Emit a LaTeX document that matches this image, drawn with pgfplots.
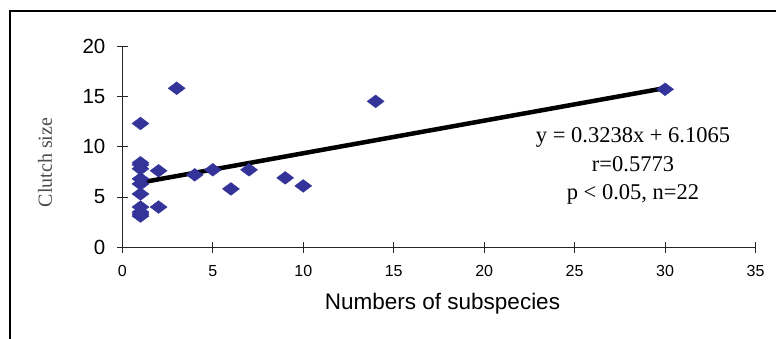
\documentclass[border=0pt]{standalone}
\usepackage{pgfplots}
\pgfplotsset{compat=1.18}
\usepackage{fontspec}
\setmainfont{Liberation Sans}
\newfontfamily\serif{Liberation Serif}
\definecolor{dotblue}{RGB}{51,51,153}
\begin{document}
\begin{tikzpicture}[x=1pt,y=1pt]
\path[use as bounding box] (0,0) rectangle (776,338);
\draw[line width=1.2pt] (10,-2) -- (10,327) -- (778,327);
\begin{axis}[
  at={(122.4pt,90.7pt)}, anchor=south west,
  scale only axis, width=633.1pt, height=201.3pt,
  xmin=0, xmax=35, ymin=0, ymax=20,
  axis x line=bottom, axis y line=left,
  axis line style={-, line width=0.8pt, black!85},
  xtick={0,5,...,35}, ytick={0,5,...,20},
  tick align=center,
  major tick length=11pt,
  tick style={line width=0.8pt, black!85},
  /pgf/number format/assume math mode=true,
  xticklabel style={font=\fontsize{16}{19}\selectfont, yshift=-9pt},
  yticklabel style={font=\fontsize{20.5}{24}\selectfont, xshift=-8pt},
  clip=false,
]
\addplot[only marks, mark=diamond*, mark size=8.5pt, mark options={rotate=90, fill=dotblue, draw=dotblue}, color=dotblue]
coordinates {
(1,12.3) (1,8.4) (1,8.2) (1,7.8) (1,6.8) (1,6.3) (1,5.3) (1,4.0) (1,3.5) (1,3.3) (1,3.1)
(2,7.6) (2,4.0) (3,15.8) (4,7.2) (5,7.7) (6,5.8) (7,7.7) (9,6.9) (10,6.1) (14,14.5) (30,15.7)
};
\addplot[black, line width=4.5pt, no marks] coordinates {(1,6.43) (30,15.82)};
\end{axis}
\node[font=\serif\fontsize{22.5}{28.5}\selectfont, align=center] at (633,172) {y = 0.3238x + 6.1065\\r=0.5773\\p < 0.05, n=22};
\node[font=\serif\fontsize{20}{24}\selectfont, rotate=90, text=black!70] at (45,175.5) {Clutch size};
\node[font=\fontsize{22.5}{26}\selectfont] at (442.5,34) {Numbers of subspecies};
\end{tikzpicture}
\end{document}
